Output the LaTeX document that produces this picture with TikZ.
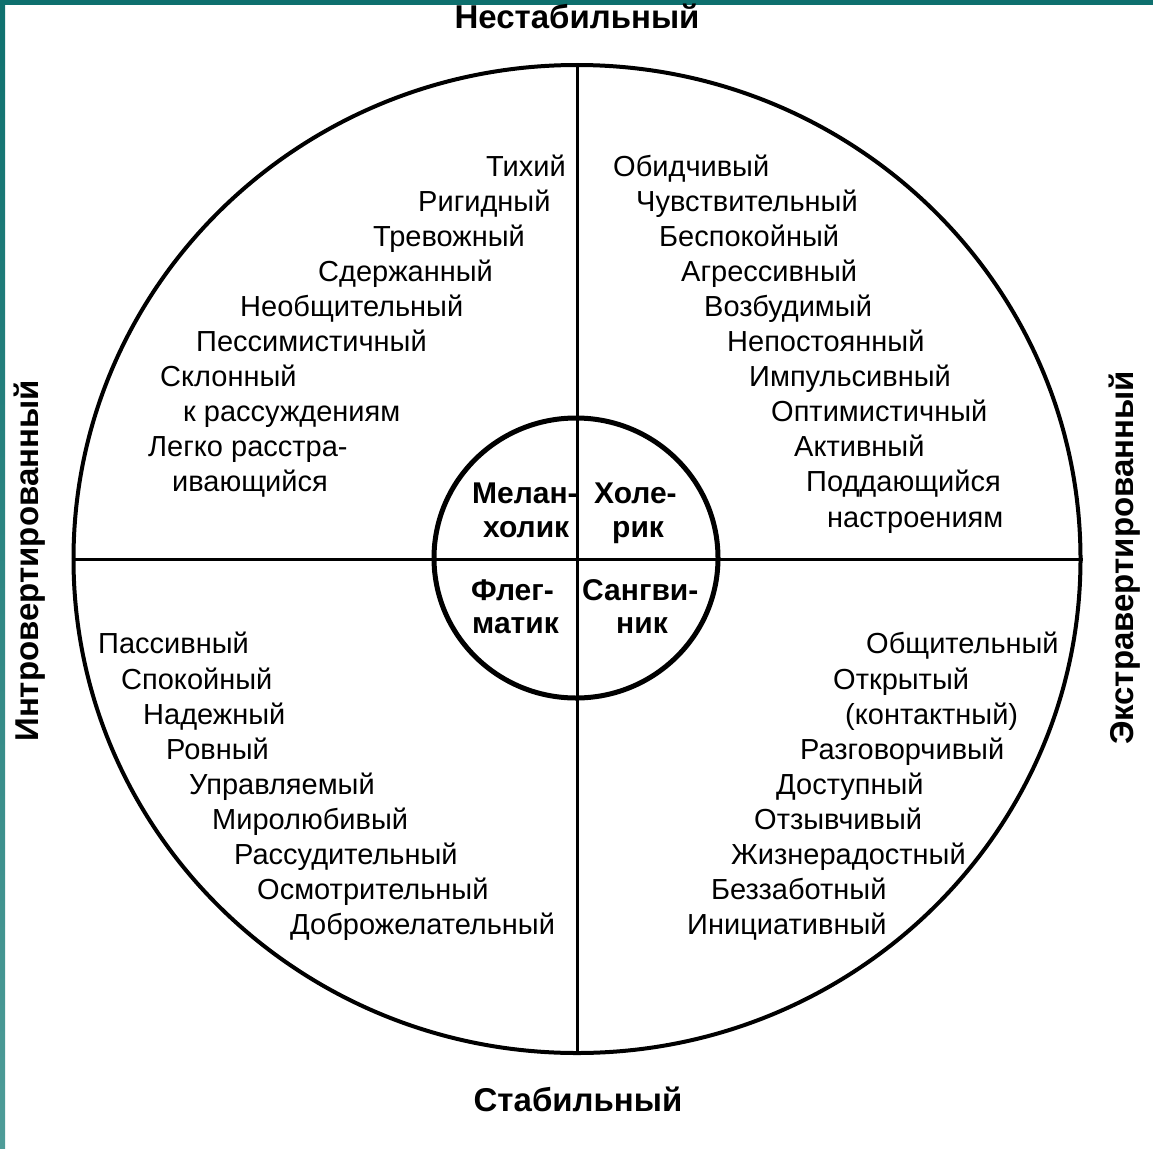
\documentclass[tikz,border=0pt]{standalone}
\usepackage{fontspec}
\setmainfont{Liberation Sans}
\usepackage{tikz}
\usetikzlibrary{shapes.geometric}
\definecolor{frameteal}{HTML}{0E706E}
\definecolor{frametealpale}{HTML}{4E9C98}
\tikzset{
  trait/.style={anchor=base west, inner sep=0pt, font=\fontsize{29}{35}\selectfont},
  temper/.style={anchor=base west, inner sep=0pt, font=\fontsize{30}{36}\selectfont\bfseries},
  axislabel/.style={inner sep=0pt, font=\fontsize{33}{40}\selectfont\bfseries}
}
\begin{document}
\begin{tikzpicture}
            [every node/.style={inner sep=0pt}]
                \useasboundingbox (0pt, 0pt) rectangle (1153pt, -1148pt);
                % frame
                \fill [color=frameteal] (0pt, 0pt) rectangle (1153pt, -5pt);
                \shade [top color=frameteal, bottom color=frametealpale] (0pt, 0pt) rectangle (5pt, -1148pt);
                % circles and axes
                \node (outer) [ellipse, minimum width=1007pt, minimum height=988pt, line width=4pt, draw=black] at (577pt, -559pt) {};
                \node (inner) [ellipse, minimum width=284pt, minimum height=280pt, line width=5pt, draw=black] at (576pt, -558pt) {};
                \draw [line width=3pt, color=black] (outer.north) to (outer.south);
                \draw [line width=3pt, color=black] (outer.west) to (outer.east);
                % axis labels
                \node (top) [axislabel, anchor=base] at (577pt, -29pt) {Нестабильный};
                \node (bottom) [axislabel, anchor=base] at (578pt, -1111pt) {Стабильный};
                \node (left) [axislabel, rotate=90] at (30pt, -561pt) {Интровертированный};
                \node (right) [axislabel, rotate=90] at (1125pt, -558pt) {Экстравертированный};
                % temperaments
                \node (m1) [temper] at (472pt, -503pt) {Мелан-};
                \node (m2) [temper] at (483pt, -537pt) {холик};
                \node (c1) [temper] at (594pt, -503pt) {Холе-};
                \node (c2) [temper] at (612pt, -537pt) {рик};
                \node (p1) [temper] at (471pt, -600pt) {Флег-};
                \node (p2) [temper] at (472pt, -633pt) {матик};
                \node (s1) [temper] at (582pt, -600pt) {Сангви-};
                \node (s2) [temper] at (616pt, -633pt) {ник};
                % upper left
                \node (ul1) [trait] at (486pt, -176pt) {Тихий};
                \node (ul2) [trait] at (418pt, -211pt) {Ригидный};
                \node (ul3) [trait] at (373pt, -246pt) {Тревожный};
                \node (ul4) [trait] at (318pt, -281pt) {Сдержанный};
                \node (ul5) [trait] at (240pt, -316pt) {Необщительный};
                \node (ul6) [trait] at (196pt, -351pt) {Пессимистичный};
                \node (ul7) [trait] at (160pt, -386pt) {Склонный};
                \node (ul8) [trait] at (183pt, -421pt) {к рассуждениям};
                \node (ul9) [trait] at (148pt, -456pt) {Легко расстра-};
                \node (ul10) [trait] at (172pt, -491pt) {ивающийся};
                % upper right
                \node (ur1) [trait] at (613pt, -176pt) {Обидчивый};
                \node (ur2) [trait] at (636pt, -211pt) {Чувствительный};
                \node (ur3) [trait] at (659pt, -246pt) {Беспокойный};
                \node (ur4) [trait] at (681pt, -281pt) {Агрессивный};
                \node (ur5) [trait] at (704pt, -316pt) {Возбудимый};
                \node (ur6) [trait] at (727pt, -351pt) {Непостоянный};
                \node (ur7) [trait] at (749pt, -386pt) {Импульсивный};
                \node (ur8) [trait] at (771pt, -421pt) {Оптимистичный};
                \node (ur9) [trait] at (794pt, -456pt) {Активный};
                \node (ur10) [trait] at (806pt, -491pt) {Поддающийся};
                \node (ur11) [trait] at (827pt, -527pt) {настроениям};
                % lower left
                \node (ll1) [trait] at (98pt, -653pt) {Пассивный};
                \node (ll2) [trait] at (121pt, -689pt) {Спокойный};
                \node (ll3) [trait] at (143pt, -724pt) {Надежный};
                \node (ll4) [trait] at (166pt, -759pt) {Ровный};
                \node (ll5) [trait] at (189pt, -794pt) {Управляемый};
                \node (ll6) [trait] at (212pt, -829pt) {Миролюбивый};
                \node (ll7) [trait] at (234pt, -864pt) {Рассудительный};
                \node (ll8) [trait] at (257pt, -899pt) {Осмотрительный};
                \node (ll9) [trait] at (290pt, -934pt) {Доброжелательный};
                % lower right
                \node (lr1) [trait] at (866pt, -653pt) {Общительный};
                \node (lr2) [trait] at (833pt, -689pt) {Открытый};
                \node (lr3) [trait] at (845pt, -724pt) {(контактный)};
                \node (lr4) [trait] at (800pt, -759pt) {Разговорчивый};
                \node (lr5) [trait] at (776pt, -794pt) {Доступный};
                \node (lr6) [trait] at (754pt, -829pt) {Отзывчивый};
                \node (lr7) [trait] at (731pt, -864pt) {Жизнерадостный};
                \node (lr8) [trait] at (711pt, -899pt) {Беззаботный};
                \node (lr9) [trait] at (687pt, -934pt) {Инициативный};
            \end{tikzpicture}
\end{document}
